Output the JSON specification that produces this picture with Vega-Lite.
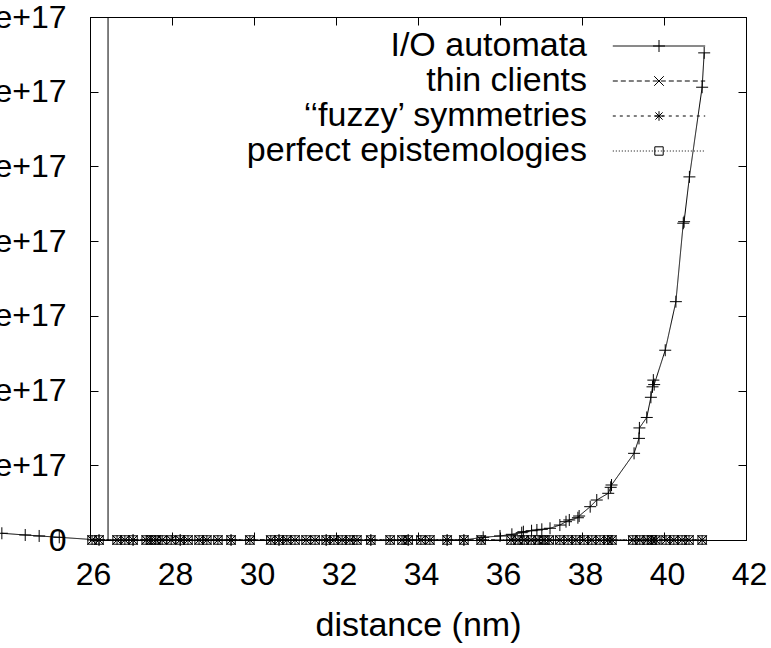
{
 "$schema": "https://vega.github.io/schema/vega-lite/v6.json",
 "width": 656, "height": 523,
 "autosize": {"type": "none"},
 "padding": {"left": 90, "top": 17, "right": 25, "bottom": 108},
 "background": "white",
 "config": {
  "font": "Liberation Sans",
  "view": {"stroke": "black", "strokeWidth": 1},
  "axis": {"grid": false, "domainColor": "black", "tickColor": "black", "labelColor": "black", "titleColor": "black", "labelFont": "Liberation Sans", "titleFont": "Liberation Sans", "labelFontSize": 32, "titleFontSize": 34, "titleFontWeight": "normal", "tickSize": -8, "domainWidth": 1, "tickWidth": 1, "labelFlush": false, "labelOverlap": false, "labelBound": false}
 },
 "data": {"values": [
  {"s": "I/O automata", "x": 23.85, "y": 9.0e15},
  {"s": "I/O automata", "x": 24.42, "y": 6.7e15},
  {"s": "I/O automata", "x": 24.76, "y": 5.4e15},
  {"s": "I/O automata", "x": 25.25, "y": 3.6e15},
  {"s": "I/O automata", "x": 26.22, "y": 0},
  {"s": "I/O automata", "x": 27.05, "y": 0},
  {"s": "I/O automata", "x": 28.2, "y": 0},
  {"s": "I/O automata", "x": 29.44, "y": 0},
  {"s": "I/O automata", "x": 30.61, "y": 0},
  {"s": "I/O automata", "x": 31.76, "y": 0},
  {"s": "I/O automata", "x": 32.85, "y": 0},
  {"s": "I/O automata", "x": 33.76, "y": 0},
  {"s": "I/O automata", "x": 34.71, "y": 0},
  {"s": "I/O automata", "x": 35.12, "y": 0},
  {"s": "I/O automata", "x": 35.59, "y": 3.6e15},
  {"s": "I/O automata", "x": 36.0, "y": 5.4e15},
  {"s": "I/O automata", "x": 36.29, "y": 7.6e15},
  {"s": "I/O automata", "x": 36.53, "y": 9.8e15},
  {"s": "I/O automata", "x": 36.57, "y": 1.11e16},
  {"s": "I/O automata", "x": 36.77, "y": 1.24e16},
  {"s": "I/O automata", "x": 36.9, "y": 1.34e16},
  {"s": "I/O automata", "x": 37.02, "y": 1.43e16},
  {"s": "I/O automata", "x": 37.22, "y": 1.57e16},
  {"s": "I/O automata", "x": 37.46, "y": 2.0e16},
  {"s": "I/O automata", "x": 37.61, "y": 2.45e16},
  {"s": "I/O automata", "x": 37.69, "y": 2.68e16},
  {"s": "I/O automata", "x": 37.9, "y": 2.98e16},
  {"s": "I/O automata", "x": 37.93, "y": 3.21e16},
  {"s": "I/O automata", "x": 38.2, "y": 4.46e16},
  {"s": "I/O automata", "x": 38.36, "y": 5.35e16},
  {"s": "I/O automata", "x": 38.64, "y": 6.25e16},
  {"s": "I/O automata", "x": 38.7, "y": 7.05e16},
  {"s": "I/O automata", "x": 38.72, "y": 7.36e16},
  {"s": "I/O automata", "x": 39.27, "y": 1.16e17},
  {"s": "I/O automata", "x": 39.39, "y": 1.36e17},
  {"s": "I/O automata", "x": 39.4, "y": 1.5e17},
  {"s": "I/O automata", "x": 39.58, "y": 1.64e17},
  {"s": "I/O automata", "x": 39.68, "y": 1.91e17},
  {"s": "I/O automata", "x": 39.72, "y": 2.05e17},
  {"s": "I/O automata", "x": 39.74, "y": 2.14e17},
  {"s": "I/O automata", "x": 39.76, "y": 2.08e17},
  {"s": "I/O automata", "x": 40.03, "y": 2.54e17},
  {"s": "I/O automata", "x": 40.29, "y": 3.19e17},
  {"s": "I/O automata", "x": 40.47, "y": 4.24e17},
  {"s": "I/O automata", "x": 40.49, "y": 4.26e17},
  {"s": "I/O automata", "x": 40.62, "y": 4.86e17},
  {"s": "I/O automata", "x": 40.93, "y": 6.06e17},
  {"s": "I/O automata", "x": 40.98, "y": 6.52e17},
  {"s": "thin clients", "x": 26.05, "y": 0}, {"s": "thin clients", "x": 26.22, "y": 0}, {"s": "thin clients", "x": 26.66, "y": 0}, {"s": "thin clients", "x": 26.85, "y": 0}, {"s": "thin clients", "x": 27.05, "y": 0}, {"s": "thin clients", "x": 27.37, "y": 0}, {"s": "thin clients", "x": 27.49, "y": 0}, {"s": "thin clients", "x": 27.61, "y": 0}, {"s": "thin clients", "x": 27.76, "y": 0}, {"s": "thin clients", "x": 27.98, "y": 0}, {"s": "thin clients", "x": 28.2, "y": 0}, {"s": "thin clients", "x": 28.39, "y": 0}, {"s": "thin clients", "x": 28.66, "y": 0}, {"s": "thin clients", "x": 28.85, "y": 0}, {"s": "thin clients", "x": 29.12, "y": 0}, {"s": "thin clients", "x": 29.44, "y": 0}, {"s": "thin clients", "x": 29.9, "y": 0}, {"s": "thin clients", "x": 30.41, "y": 0}, {"s": "thin clients", "x": 30.61, "y": 0}, {"s": "thin clients", "x": 30.8, "y": 0}, {"s": "thin clients", "x": 31.0, "y": 0}, {"s": "thin clients", "x": 31.27, "y": 0}, {"s": "thin clients", "x": 31.49, "y": 0}, {"s": "thin clients", "x": 31.76, "y": 0}, {"s": "thin clients", "x": 31.95, "y": 0}, {"s": "thin clients", "x": 32.15, "y": 0}, {"s": "thin clients", "x": 32.34, "y": 0}, {"s": "thin clients", "x": 32.51, "y": 0}, {"s": "thin clients", "x": 32.85, "y": 0}, {"s": "thin clients", "x": 33.32, "y": 0}, {"s": "thin clients", "x": 33.61, "y": 0}, {"s": "thin clients", "x": 33.76, "y": 0}, {"s": "thin clients", "x": 34.07, "y": 0}, {"s": "thin clients", "x": 34.29, "y": 0}, {"s": "thin clients", "x": 34.71, "y": 0}, {"s": "thin clients", "x": 35.12, "y": 0}, {"s": "thin clients", "x": 35.54, "y": 0}, {"s": "thin clients", "x": 36.27, "y": 0}, {"s": "thin clients", "x": 36.44, "y": 0}, {"s": "thin clients", "x": 36.59, "y": 0}, {"s": "thin clients", "x": 36.76, "y": 0}, {"s": "thin clients", "x": 36.93, "y": 0}, {"s": "thin clients", "x": 37.07, "y": 0}, {"s": "thin clients", "x": 37.2, "y": 0}, {"s": "thin clients", "x": 37.46, "y": 0}, {"s": "thin clients", "x": 37.66, "y": 0}, {"s": "thin clients", "x": 37.85, "y": 0}, {"s": "thin clients", "x": 38.05, "y": 0}, {"s": "thin clients", "x": 38.24, "y": 0}, {"s": "thin clients", "x": 38.44, "y": 0}, {"s": "thin clients", "x": 38.63, "y": 0}, {"s": "thin clients", "x": 38.73, "y": 0}, {"s": "thin clients", "x": 39.24, "y": 0}, {"s": "thin clients", "x": 39.41, "y": 0}, {"s": "thin clients", "x": 39.59, "y": 0}, {"s": "thin clients", "x": 39.71, "y": 0}, {"s": "thin clients", "x": 39.8, "y": 0}, {"s": "thin clients", "x": 40.05, "y": 0}, {"s": "thin clients", "x": 40.24, "y": 0}, {"s": "thin clients", "x": 40.44, "y": 0}, {"s": "thin clients", "x": 40.61, "y": 0}, {"s": "thin clients", "x": 40.93, "y": 0},
  {"s": "‘‘fuzzy’ symmetries", "x": 26.05, "y": 0}, {"s": "‘‘fuzzy’ symmetries", "x": 26.22, "y": 0}, {"s": "‘‘fuzzy’ symmetries", "x": 26.66, "y": 0}, {"s": "‘‘fuzzy’ symmetries", "x": 26.85, "y": 0}, {"s": "‘‘fuzzy’ symmetries", "x": 27.05, "y": 0}, {"s": "‘‘fuzzy’ symmetries", "x": 27.37, "y": 0}, {"s": "‘‘fuzzy’ symmetries", "x": 27.49, "y": 0}, {"s": "‘‘fuzzy’ symmetries", "x": 27.61, "y": 0}, {"s": "‘‘fuzzy’ symmetries", "x": 27.76, "y": 0}, {"s": "‘‘fuzzy’ symmetries", "x": 27.98, "y": 0}, {"s": "‘‘fuzzy’ symmetries", "x": 28.2, "y": 0}, {"s": "‘‘fuzzy’ symmetries", "x": 28.39, "y": 0}, {"s": "‘‘fuzzy’ symmetries", "x": 28.66, "y": 0}, {"s": "‘‘fuzzy’ symmetries", "x": 28.85, "y": 0}, {"s": "‘‘fuzzy’ symmetries", "x": 29.12, "y": 0}, {"s": "‘‘fuzzy’ symmetries", "x": 29.44, "y": 0}, {"s": "‘‘fuzzy’ symmetries", "x": 29.9, "y": 0}, {"s": "‘‘fuzzy’ symmetries", "x": 30.41, "y": 0}, {"s": "‘‘fuzzy’ symmetries", "x": 30.61, "y": 0}, {"s": "‘‘fuzzy’ symmetries", "x": 30.8, "y": 0}, {"s": "‘‘fuzzy’ symmetries", "x": 31.0, "y": 0}, {"s": "‘‘fuzzy’ symmetries", "x": 31.27, "y": 0}, {"s": "‘‘fuzzy’ symmetries", "x": 31.49, "y": 0}, {"s": "‘‘fuzzy’ symmetries", "x": 31.76, "y": 0}, {"s": "‘‘fuzzy’ symmetries", "x": 31.95, "y": 0}, {"s": "‘‘fuzzy’ symmetries", "x": 32.15, "y": 0}, {"s": "‘‘fuzzy’ symmetries", "x": 32.34, "y": 0}, {"s": "‘‘fuzzy’ symmetries", "x": 32.51, "y": 0}, {"s": "‘‘fuzzy’ symmetries", "x": 32.85, "y": 0}, {"s": "‘‘fuzzy’ symmetries", "x": 33.32, "y": 0}, {"s": "‘‘fuzzy’ symmetries", "x": 33.61, "y": 0}, {"s": "‘‘fuzzy’ symmetries", "x": 33.76, "y": 0}, {"s": "‘‘fuzzy’ symmetries", "x": 34.07, "y": 0}, {"s": "‘‘fuzzy’ symmetries", "x": 34.29, "y": 0}, {"s": "‘‘fuzzy’ symmetries", "x": 34.71, "y": 0}, {"s": "‘‘fuzzy’ symmetries", "x": 35.12, "y": 0}, {"s": "‘‘fuzzy’ symmetries", "x": 35.54, "y": 0}, {"s": "‘‘fuzzy’ symmetries", "x": 36.27, "y": 0}, {"s": "‘‘fuzzy’ symmetries", "x": 36.44, "y": 0}, {"s": "‘‘fuzzy’ symmetries", "x": 36.59, "y": 0}, {"s": "‘‘fuzzy’ symmetries", "x": 36.76, "y": 0}, {"s": "‘‘fuzzy’ symmetries", "x": 36.93, "y": 0}, {"s": "‘‘fuzzy’ symmetries", "x": 37.07, "y": 0}, {"s": "‘‘fuzzy’ symmetries", "x": 37.2, "y": 0}, {"s": "‘‘fuzzy’ symmetries", "x": 37.46, "y": 0}, {"s": "‘‘fuzzy’ symmetries", "x": 37.66, "y": 0}, {"s": "‘‘fuzzy’ symmetries", "x": 37.85, "y": 0}, {"s": "‘‘fuzzy’ symmetries", "x": 38.05, "y": 0}, {"s": "‘‘fuzzy’ symmetries", "x": 38.24, "y": 0}, {"s": "‘‘fuzzy’ symmetries", "x": 38.44, "y": 0}, {"s": "‘‘fuzzy’ symmetries", "x": 38.63, "y": 0}, {"s": "‘‘fuzzy’ symmetries", "x": 38.73, "y": 0}, {"s": "‘‘fuzzy’ symmetries", "x": 39.24, "y": 0}, {"s": "‘‘fuzzy’ symmetries", "x": 39.41, "y": 0}, {"s": "‘‘fuzzy’ symmetries", "x": 39.59, "y": 0}, {"s": "‘‘fuzzy’ symmetries", "x": 39.71, "y": 0}, {"s": "‘‘fuzzy’ symmetries", "x": 39.8, "y": 0}, {"s": "‘‘fuzzy’ symmetries", "x": 40.05, "y": 0}, {"s": "‘‘fuzzy’ symmetries", "x": 40.24, "y": 0}, {"s": "‘‘fuzzy’ symmetries", "x": 40.44, "y": 0}, {"s": "‘‘fuzzy’ symmetries", "x": 40.61, "y": 0}, {"s": "‘‘fuzzy’ symmetries", "x": 40.93, "y": 0},
  {"s": "perfect epistemologies", "x": 26.05, "y": 0}, {"s": "perfect epistemologies", "x": 26.22, "y": 0}, {"s": "perfect epistemologies", "x": 26.66, "y": 0}, {"s": "perfect epistemologies", "x": 26.85, "y": 0}, {"s": "perfect epistemologies", "x": 27.05, "y": 0}, {"s": "perfect epistemologies", "x": 27.37, "y": 0}, {"s": "perfect epistemologies", "x": 27.49, "y": 0}, {"s": "perfect epistemologies", "x": 27.61, "y": 0}, {"s": "perfect epistemologies", "x": 27.76, "y": 0}, {"s": "perfect epistemologies", "x": 27.98, "y": 0}, {"s": "perfect epistemologies", "x": 28.2, "y": 0}, {"s": "perfect epistemologies", "x": 28.39, "y": 0}, {"s": "perfect epistemologies", "x": 28.66, "y": 0}, {"s": "perfect epistemologies", "x": 28.85, "y": 0}, {"s": "perfect epistemologies", "x": 29.12, "y": 0}, {"s": "perfect epistemologies", "x": 29.44, "y": 0}, {"s": "perfect epistemologies", "x": 29.9, "y": 0}, {"s": "perfect epistemologies", "x": 30.41, "y": 0}, {"s": "perfect epistemologies", "x": 30.61, "y": 0}, {"s": "perfect epistemologies", "x": 30.8, "y": 0}, {"s": "perfect epistemologies", "x": 31.0, "y": 0}, {"s": "perfect epistemologies", "x": 31.27, "y": 0}, {"s": "perfect epistemologies", "x": 31.49, "y": 0}, {"s": "perfect epistemologies", "x": 31.76, "y": 0}, {"s": "perfect epistemologies", "x": 31.95, "y": 0}, {"s": "perfect epistemologies", "x": 32.15, "y": 0}, {"s": "perfect epistemologies", "x": 32.34, "y": 0}, {"s": "perfect epistemologies", "x": 32.51, "y": 0}, {"s": "perfect epistemologies", "x": 32.85, "y": 0}, {"s": "perfect epistemologies", "x": 33.32, "y": 0}, {"s": "perfect epistemologies", "x": 33.61, "y": 0}, {"s": "perfect epistemologies", "x": 33.76, "y": 0}, {"s": "perfect epistemologies", "x": 34.07, "y": 0}, {"s": "perfect epistemologies", "x": 34.29, "y": 0}, {"s": "perfect epistemologies", "x": 34.71, "y": 0}, {"s": "perfect epistemologies", "x": 35.12, "y": 0}, {"s": "perfect epistemologies", "x": 35.54, "y": 0}, {"s": "perfect epistemologies", "x": 36.27, "y": 0}, {"s": "perfect epistemologies", "x": 36.44, "y": 0}, {"s": "perfect epistemologies", "x": 36.59, "y": 0}, {"s": "perfect epistemologies", "x": 36.76, "y": 0}, {"s": "perfect epistemologies", "x": 36.93, "y": 0}, {"s": "perfect epistemologies", "x": 37.07, "y": 0}, {"s": "perfect epistemologies", "x": 37.2, "y": 0}, {"s": "perfect epistemologies", "x": 37.46, "y": 0}, {"s": "perfect epistemologies", "x": 37.66, "y": 0}, {"s": "perfect epistemologies", "x": 37.85, "y": 0}, {"s": "perfect epistemologies", "x": 38.05, "y": 0}, {"s": "perfect epistemologies", "x": 38.24, "y": 0}, {"s": "perfect epistemologies", "x": 38.44, "y": 0}, {"s": "perfect epistemologies", "x": 38.63, "y": 0}, {"s": "perfect epistemologies", "x": 38.73, "y": 0}, {"s": "perfect epistemologies", "x": 39.24, "y": 0}, {"s": "perfect epistemologies", "x": 39.41, "y": 0}, {"s": "perfect epistemologies", "x": 39.59, "y": 0}, {"s": "perfect epistemologies", "x": 39.71, "y": 0}, {"s": "perfect epistemologies", "x": 39.8, "y": 0}, {"s": "perfect epistemologies", "x": 40.05, "y": 0}, {"s": "perfect epistemologies", "x": 40.24, "y": 0}, {"s": "perfect epistemologies", "x": 40.44, "y": 0}, {"s": "perfect epistemologies", "x": 40.61, "y": 0}, {"s": "perfect epistemologies", "x": 40.93, "y": 0}
 ]},
 "layer": [
  {
   "mark": {"type": "line", "clip": false, "color": "black", "strokeWidth": 1},
   "encoding": {
    "x": {"field": "x", "type": "quantitative", "scale": {"domain": [26, 42], "nice": false, "zero": false},
          "axis": {"orient": "bottom", "values": [26, 28, 30, 32, 34, 36, 38, 40, 42], "format": "d", "title": "distance (nm)", "labelPadding": 27, "labelOffset": 3, "titlePadding": 18}},
    "y": {"field": "y", "type": "quantitative", "scale": {"domain": [0, 7e17], "nice": false, "zero": false},
          "axis": {"orient": "left", "values": [0, 1e17, 2e17, 3e17, 4e17, 5e17, 6e17, 7e17], "labelExpr": "datum.value == 0 ? '0' : format(datum.value, '.0e')", "labelPadding": 32, "title": null}},
    "strokeDash": {"field": "s", "type": "nominal",
     "scale": {"domain": ["I/O automata", "thin clients", "‘‘fuzzy’ symmetries", "perfect epistemologies"], "range": [[1, 0], [5, 3], [3, 4], [1, 2]]},
     "legend": {"orient": "none", "legendX": 552, "legendY": 12, "title": null, "symbolType": "M-7.7,0L7.7,0", "symbolSize": 144, "symbolStrokeColor": "black", "symbolStrokeWidth": 1, "labelAlign": "right", "labelOffset": -89, "labelFontSize": 34, "labelFont": "Liberation Sans", "labelColor": "black", "labelLimit": 0, "rowPadding": 1, "padding": 0}}
   }
  },
  {
   "mark": {"type": "point", "clip": false, "filled": false, "color": "black", "strokeWidth": 1, "size": 144, "opacity": 1},
   "encoding": {
    "x": {"field": "x", "type": "quantitative", "axis": {"orient": "top", "values": [26, 28, 30, 32, 34, 36, 38, 40, 42], "labels": false, "title": null}},
    "y": {"field": "y", "type": "quantitative", "axis": {"orient": "right", "values": [0, 1e17, 2e17, 3e17, 4e17, 5e17, 6e17, 7e17], "labels": false, "title": null}},
    "shape": {"field": "s", "type": "nominal", "sort": ["I/O automata", "thin clients", "‘‘fuzzy’ symmetries", "perfect epistemologies"],
     "scale": {"range": ["M-1,0L1,0M0,-1L0,1", "M-0.8,-0.8L0.8,0.8M-0.8,0.8L0.8,-0.8", "M-0.8,0L0.8,0M0,-0.8L0,0.8M-0.6,-0.6L0.6,0.6M-0.6,0.6L0.6,-0.6", "M-0.7,-0.7L0.7,-0.7L0.7,0.7L-0.7,0.7Z"]},
     "legend": {"orient": "none", "legendX": 552, "legendY": 12, "title": null, "symbolSize": 144, "symbolStrokeColor": "black", "symbolStrokeWidth": 1, "symbolFillColor": "transparent", "labelAlign": "right", "labelOffset": -89, "labelFontSize": 34, "labelFont": "Liberation Sans", "labelExpr": "''", "rowPadding": 1, "padding": 0}}
   }
  },
  {
   "data": {"values": [{"x": 26.44}]},
   "mark": {"type": "rule", "color": "black", "strokeWidth": 1},
   "encoding": {"x": {"field": "x", "type": "quantitative", "axis": null}}
  }
 ]
}
